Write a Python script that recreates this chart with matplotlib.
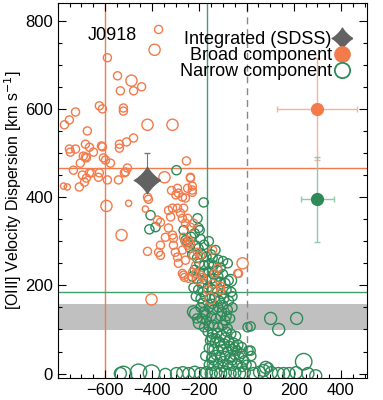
import numpy as np
import matplotlib
matplotlib.use("Agg")
import matplotlib.pyplot as plt
from matplotlib.path import Path
from matplotlib.lines import Line2D

plt.rcParams['font.family'] = ['Liberation Sans', 'DejaVu Sans']

ORANGE = '#F37A4A'
GREEN = '#2E8B57'
SIZES_B = {'s': 20, 'm': 34, 'l': 65, 'xl': 130}
SIZES_N = {'s': 24, 'm': 44, 'l': 75, 'xl': 140}

# broad component spaxels (x, sigma, size class)
broad = [
    (-373, 780, 'm'), (-390, 734, 'l'), (-590, 716, 'm'), (-547, 675, 'm'), (-488, 664, 'l'),
    (-535, 641, 'm'), (-479, 641, 'm'), (-445, 650, 'm'), (-624, 607, 'm'), (-611, 600, 'm'),
    (-522, 602, 'm'), (-522, 595, 'm'), (-725, 593, 'm'), (-751, 575, 'm'), (-772, 564, 'm'),
    (-420, 564, 'l'), (-314, 564, 'l'), (-675, 550, 'm'), (-479, 534, 'm'), (-509, 525, 'm'),
    (-539, 520, 'm'), (-539, 511, 'm'), (-611, 514, 'm'), (-683, 520, 'm'), (-666, 513, 'm'),
    (-751, 509, 'm'), (-747, 502, 'm'), (-725, 509, 'm'), (-649, 502, 'm'), (-692, 493, 'm'),
    (-607, 489, 'm'), (-598, 484, 'm'), (-679, 489, 'm'), (-705, 477, 'm'), (-577, 477, 'm'),
    (-734, 461, 'm'), (-505, 466, 'm'), (-513, 457, 'm'), (-518, 455, 'm'), (-255, 482, 'm'),
    (-348, 445, 'l'), (-238, 445, 'm'), (-230, 425, 'm'), (-250, 420, 'm'), (-230, 411, 'm'),
    (-696, 450, 'm'), (-666, 455, 'm'), (-624, 455, 'm'), (-628, 445, 'm'), (-679, 443, 'm'),
    (-687, 434, 'm'), (-709, 423, 'm'), (-776, 425, 's'), (-760, 423, 's'), (-543, 439, 'm'),
    (-590, 439, 'm'), (-420, 400, 'm'), (-615, 516, 'm'), (-683, 491, 'm'), (-658, 455, 'm'),
    (-416, 395, 'm'), (-429, 373, 's'), (-500, 386, 's'), (-594, 380, 'l'), (-530, 314, 'l'),
    (-420, 277, 'm'), (-373, 275, 'm'), (-365, 268, 'm'), (-365, 291, 'm'), (-378, 348, 'm'),
    (-365, 343, 'm'), (-314, 375, 'm'), (-331, 370, 'm'), (-293, 375, 'm'), (-280, 364, 'm'),
    (-293, 420, 'm'), (-289, 409, 'm'), (-259, 398, 'm'), (-238, 443, 'm'), (-230, 416, 'm'),
    (-322, 355, 'm'), (-331, 330, 'm'), (-314, 314, 'm'), (-310, 307, 'm'), (-344, 309, 'm'),
    (-272, 352, 'm'), (-259, 341, 'm'), (-238, 332, 'm'), (-267, 309, 'm'), (-246, 302, 'm'),
    (-250, 291, 'm'), (-310, 291, 'm'), (-302, 275, 'm'), (-272, 280, 'm'), (-259, 257, 'm'),
    (-289, 250, 'm'), (-272, 227, 'm'), (-225, 268, 'm'), (-216, 245, 'm'), (-195, 223, 'm'),
    (-229, 230, 'm'), (-263, 218, 'm'), (-403, 168, 'l'), (-318, 415, 'm'), (-300, 405, 'm'),
    (-272, 400, 'm'), (-267, 375, 'm'), (-17, 250, 'l'), (-34, 227, 'm'), (-123, 239, 'm'),
    (-136, 227, 'm'), (-144, 204, 'm'), (-110, 189, 'm'), (-153, 170, 'l'), (-187, 218, 'm'),
    (-293, 264, 'm'), (-267, 223, 'm'), (-246, 216, 'm'), (-216, 227, 'm'), (-204, 211, 'm'),
    (-195, 268, 'm'), (-208, 275, 'm'), (-144, 280, 'm'), (-38, 227, 'm'), (-165, 190, 'm'),
    (-250, 352, 'm'), (-225, 341, 'm'), (-259, 298, 'm'), (-238, 295, 'm'), (-110, 198, 'm'),
]

# narrow component spaxels
narrow = [
    (-297, 461, 'm'), (-182, 388, 'm'), (-208, 352, 'm'), (-407, 359, 'm'), (-386, 332, 'm'),
    (-412, 327, 'm'), (-204, 330, 'm'), (-199, 325, 'm'), (-267, 325, 'm'),
    (-259, 302, 'm'), (-250, 298, 'm'), (-235, 310, 'm'), (-220, 318, 'm'), (-195, 305, 'm'),
    (-215, 290, 'm'), (-180, 292, 'm'), (-204, 284, 'm'), (-240, 285, 'm'), (-160, 300, 'm'),
    (-230, 270, 'm'), (-210, 262, 'm'), (-190, 270, 'm'), (-170, 265, 'm'), (-150, 270, 'm'),
    (-132, 280, 'm'), (-144, 262, 'm'), (-120, 258, 'm'), (-200, 250, 'm'), (-180, 245, 'm'),
    (-160, 248, 'm'), (-140, 245, 'm'), (-100, 255, 'm'), (-80, 250, 'm'), (-110, 240, 'm'),
    (-220, 235, 'm'), (-200, 230, 'm'), (-180, 228, 'm'), (-160, 232, 'm'), (-140, 225, 'm'),
    (-120, 220, 'm'), (-100, 225, 'm'), (-76, 211, 'm'), (-68, 211, 'l'), (-90, 205, 'm'),
    (-110, 208, 'm'), (-130, 210, 'm'), (-150, 215, 'm'), (-170, 212, 'm'), (-190, 205, 'm'),
    (-210, 215, 'm'), (-230, 220, 'm'), (-123, 234, 'm'),
    (-225, 195, 'm'), (-205, 190, 'm'), (-185, 185, 'm'), (-165, 195, 'm'), (-145, 190, 'm'),
    (-125, 185, 'm'), (-105, 180, 'm'), (-85, 190, 'm'), (-65, 185, 'm'), (-215, 175, 'm'),
    (-195, 170, 'm'), (-175, 175, 'm'), (-155, 170, 'm'), (-135, 172, 'm'), (-115, 165, 'm'),
    (-95, 170, 'm'), (-75, 165, 'm'), (-60, 175, 'm'),
    (-225, 140, 'l'), (-216, 136, 'l'), (-200, 115, 'l'), (-195, 150, 'm'), (-180, 140, 'm'),
    (-160, 150, 'm'), (-140, 145, 'm'), (-120, 150, 'm'), (-100, 155, 'm'), (-80, 145, 'm'),
    (-60, 150, 'm'), (-210, 125, 'm'), (-190, 125, 'm'), (-170, 120, 'm'), (-150, 130, 'm'),
    (-130, 125, 'm'), (-110, 130, 'm'), (-90, 120, 'm'), (-70, 125, 'm'), (-180, 105, 'm'),
    (-160, 108, 'm'), (-140, 110, 'm'), (-120, 105, 'm'), (-100, 110, 'm'), (-80, 102, 'm'),
    (4, 105, 'm'), (17, 107, 'm'),
    (102, 125, 'l'), (136, 100, 'l'), (212, 125, 'l'), (242, 27, 'xl'), (17, 52, 'm'), (20, 40, 'm'),
    (-165, 95, 'm'), (-145, 90, 'm'), (-125, 92, 'm'), (-105, 88, 'm'), (-85, 95, 'm'),
    (-65, 90, 'm'), (-45, 85, 'm'), (-155, 75, 'm'), (-135, 70, 'm'), (-115, 72, 'm'),
    (-95, 68, 'm'), (-75, 75, 'm'), (-55, 70, 'm'), (-35, 65, 'm'), (-160, 58, 'm'),
    (-140, 55, 'm'), (-120, 52, 'm'), (-100, 55, 'm'), (-80, 50, 'm'), (-60, 55, 'm'),
    (-40, 52, 'm'), (-20, 60, 'm'), (8, 52, 'm'),
    (-175, 40, 'm'), (-150, 35, 'm'), (-130, 42, 'm'), (-110, 38, 'm'), (-90, 40, 'm'),
    (-70, 35, 'm'), (-50, 42, 'm'), (-30, 38, 'm'), (-10, 30, 'm'), (-160, 20, 'm'),
    (-140, 18, 'm'), (-120, 22, 'm'), (-100, 15, 'm'), (-80, 20, 'm'), (-60, 18, 'm'),
    (-40, 22, 'm'), (-20, 15, 'm'), (0, 20, 'm'), (20, 18, 'm'), (81, 14, 'l'), (93, 14, 'm'),
    (-150, 82, 'm'), (-130, 80, 'm'), (-110, 62, 'm'), (-90, 82, 'm'), (-70, 62, 'm'),
    (-50, 60, 'm'), (-140, 30, 'm'), (-100, 28, 'm'), (-60, 30, 'm'), (-20, 45, 'm'),
    (-185, 160, 'm'), (-145, 158, 'm'), (-105, 140, 'm'), (-85, 130, 'm'), (-175, 135, 'm'),
    (-535, 0, 'l'), (-522, -2, 'xl'), (-458, 3, 'xl'), (-403, 1, 'xl'), (-344, -2, 'l'),
    (-297, 0, 'l'), (-270, 2, 'l'), (-245, 0, 'l'), (-220, 3, 'l'), (-195, 0, 'l'),
    (-170, 2, 'l'), (-150, 0, 'l'), (-130, 3, 'l'), (-110, 0, 'l'), (-90, 2, 'l'),
    (-70, 0, 'l'), (-50, 3, 'l'), (-30, 0, 'l'), (-10, 2, 'l'), (30, 0, 'l'),
    (55, 3, 'l'), (72, 7, 'l'), (105, 2, 'l'), (135, 0, 'l'), (157, 0, 'l'),
    (180, 0, 'l'), (210, 2, 'l'), (260, 0, 'l'), (293, -5, 'l'),
]

# integrated SDSS value and typical errors
sdss_v, sdss_sig, sdss_err = -420, 438, 62
broad_err = (300, 600, 170, 115)
narrow_err = (300, 395, 70, 96)

# reference lines
v_broad_line, v_narrow_line = -600, -167
sig_broad_line, sig_narrow_line = 466, 186
band = (98, 157)

# concave 4 point star
t = np.linspace(0, 2 * np.pi, 80)
c, s = np.cos(t), np.sin(t)
star = Path(np.column_stack([np.sign(c) * np.abs(c) ** 2.4, np.sign(s) * np.abs(s) ** 2.4]))

fig = plt.figure(figsize=(3.83, 4.0), dpi=100)
ax = fig.add_axes([0.151, 0.055, 0.807, 0.9375])

ax.axhspan(band[0], band[1], color='#c0c0c0', lw=0, zorder=0)
ax.axvline(v_broad_line, color=ORANGE, lw=1.0, zorder=1)
ax.axhline(sig_broad_line, color=ORANGE, lw=1.0, zorder=1)
ax.axvline(v_narrow_line, color='#3f9e6c', lw=1.0, zorder=1)
ax.axhline(sig_narrow_line, color='#3f9e6c', lw=1.0, zorder=1)
ax.axvline(0, color='#888888', lw=1.0, ls=(0, (5, 3.5)), zorder=1)

nx = [p[0] for p in narrow]
ny = [p[1] for p in narrow]
ns = [SIZES_N[p[2]] for p in narrow]
ax.scatter(nx, ny, s=ns, facecolors='none', edgecolors=GREEN, linewidths=1.0, zorder=2)

bx = [p[0] for p in broad]
by = [p[1] for p in broad]
bs = [SIZES_B[p[2]] for p in broad]
ax.scatter(bx, by, s=bs, facecolors='none', edgecolors=ORANGE, linewidths=1.0, zorder=3)

ax.errorbar([sdss_v], [sdss_sig], yerr=[[0], [sdss_err]], fmt='none', ecolor='#777777',
            elinewidth=0.8, capsize=2, zorder=4)
ax.plot([sdss_v], [sdss_sig], marker=star, ms=19, color='#626262', ls='none', zorder=5)

ax.errorbar([broad_err[0]], [broad_err[1]], xerr=broad_err[2], yerr=broad_err[3], fmt='o',
            ms=8.5, color=ORANGE, ecolor='#f7b497', elinewidth=1.0, capsize=2, zorder=4)
ax.errorbar([narrow_err[0]], [narrow_err[1]], xerr=narrow_err[2], yerr=narrow_err[3], fmt='o',
            ms=8.5, color=GREEN, ecolor='#92c9aa', elinewidth=1.0, capsize=2, zorder=4)

ax.text(-675, 766, 'J0918', fontsize=13, ha='left', va='center')

handles = [
    Line2D([], [], marker=star, ms=15, color='#626262', ls='none'),
    Line2D([], [], marker='o', ms=11, color=ORANGE, ls='none'),
    Line2D([], [], marker='o', ms=11, mfc='none', mec=GREEN, mew=1.3, ls='none'),
]
labels = ['Integrated (SDSS)', 'Broad component', 'Narrow component']
ax.legend(handles, labels, loc='upper right', markerfirst=False, frameon=False, fontsize=13,
          handlelength=0.8, handletextpad=0.15, labelspacing=-0.05, borderaxespad=0.0,
          bbox_to_anchor=(0.965, 0.945))

ax.set_xlim(-800, 510)
ax.set_ylim(-10, 840)
ax.set_xticks([-600, -400, -200, 0, 200, 400])
ax.set_xticks(np.arange(-800, 501, 50), minor=True)
ax.set_yticks([0, 200, 400, 600, 800])
ax.set_yticks(np.arange(0, 841, 50), minor=True)
ax.tick_params(which='both', direction='in', top=True, right=True, labelsize=12)
ax.tick_params(which='major', length=6, width=0.8)
ax.tick_params(which='minor', length=3, width=0.8)
for sp in ax.spines.values():
    sp.set_linewidth(0.8)
ax.set_ylabel('[OIII] Velocity Dispersion [km s$^{-1}$]', fontsize=11.5, labelpad=1)

fig.savefig('out.png', dpi=100)
